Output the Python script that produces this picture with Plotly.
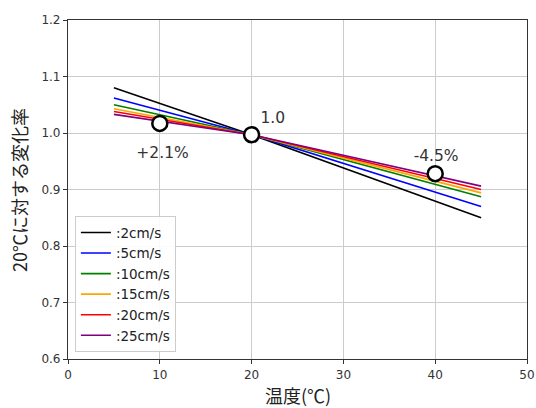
import plotly.graph_objects as go

# Data
temps = [5, 20, 45]
series_names = [":2cm/s", ":5cm/s", ":10cm/s", ":15cm/s", ":20cm/s", ":25cm/s"]
series_values = [
    [1.080, 0.997, 0.850],
    [1.062, 0.997, 0.870],
    [1.050, 0.997, 0.887],
    [1.043, 0.997, 0.894],
    [1.038, 0.997, 0.900],
    [1.033, 0.997, 0.906],
]
colors = ["black", "blue", "green", "orange", "red", "purple"]

marker_x = [10, 20, 40]
marker_y = [1.017, 0.997, 0.928]
label_texts = ["+2.1%", "1.0", "-4.5%"]
label_x = [10.3, 22.3, 40.1]
label_y = [0.963, 1.025, 0.958]

x_title = "温度(℃)"
y_title = "20℃に対する変化率"

fig = go.Figure()
for name, vals, c in zip(series_names, series_values, colors):
    fig.add_trace(go.Scatter(x=temps, y=vals, mode="lines", name=name,
                             line=dict(color=c, width=1.6)))

fig.add_trace(go.Scatter(x=marker_x, y=marker_y, mode="markers", showlegend=False,
                         marker=dict(size=15, color="white",
                                     line=dict(color="black", width=2.5))))
fig.add_trace(go.Scatter(x=label_x, y=label_y, mode="text", text=label_texts,
                         showlegend=False,
                         textfont=dict(family="DejaVu Sans", size=15.5, color="#333333")))

axis_common = dict(showgrid=True, gridcolor="#cccccc", gridwidth=1,
                   showline=True, linecolor="#333333", linewidth=1.2, mirror=True,
                   ticks="outside", ticklen=4, tickcolor="#333333",
                   tickfont=dict(family="DejaVu Sans", size=12, color="#333333"),
                   ticklabeloverflow="allow",
                   zeroline=False, automargin=False)

fig.update_layout(
    width=536, height=408,
    margin=dict(l=68, r=9, t=20, b=49),
    paper_bgcolor="white", plot_bgcolor="white",
    xaxis=dict(range=[0, 50], dtick=10, tick0=0, **axis_common),
    yaxis=dict(range=[0.6, 1.2], dtick=0.1, tick0=0.6, tickformat=".1f", **axis_common),
    legend=dict(x=0.015, y=0.02, xanchor="left", yanchor="bottom",
                bgcolor="rgba(255,255,255,0.9)", bordercolor="#cccccc", borderwidth=1,
                font=dict(family="DejaVu Sans", size=13.5, color="#222222"),
                tracegroupgap=0, itemwidth=30),
    annotations=[
        dict(text=x_title, xref="paper", yref="paper", x=0.5, y=-0.062,
             xanchor="center", yanchor="top", showarrow=False,
             font=dict(family="Noto Sans CJK JP", size=18, color="#222222")),
        dict(text=y_title, xref="paper", yref="paper", x=-0.108, y=0.5,
             xanchor="center", yanchor="middle", showarrow=False, textangle=-90,
             font=dict(family="Noto Sans CJK JP", size=18, color="#222222")),
    ],
)

fig.write_html("out.html", config={"displayModeBar": False},
               post_script="document.body.style.margin='0';document.body.style.overflow='hidden';")
